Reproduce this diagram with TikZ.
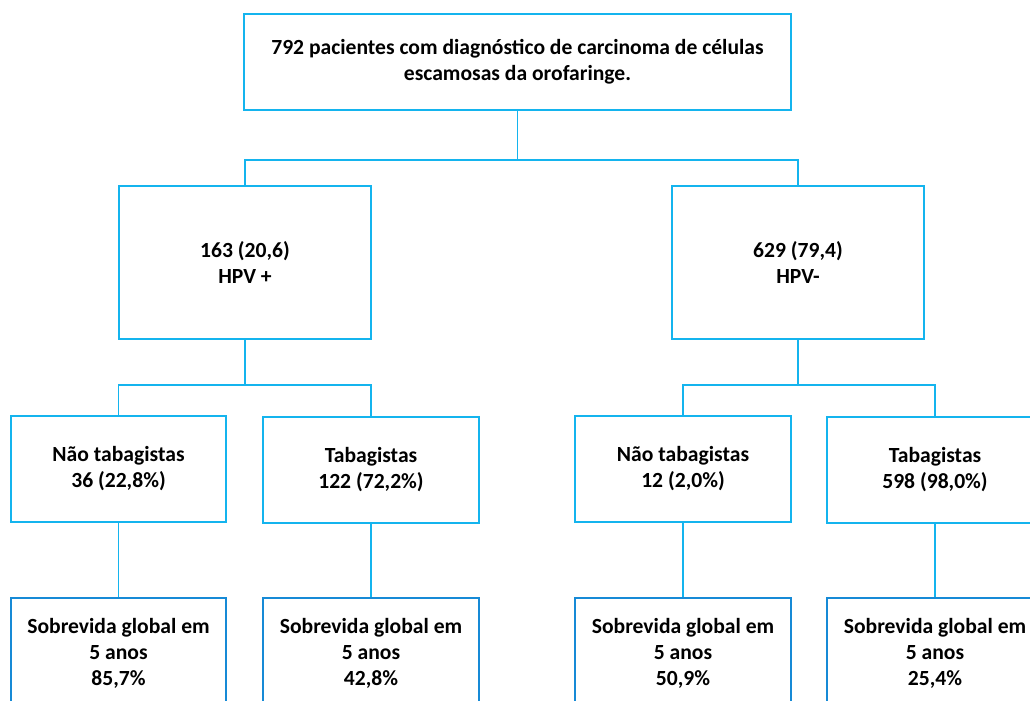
\documentclass[tikz,border=0pt]{standalone}
\usepackage{fontspec}
\setmainfont{Carlito}
\definecolor{lineblue}{RGB}{20,180,238}
\definecolor{darkblue}{RGB}{22,138,214}
\tikzset{
  box/.style = {draw = lineblue, line width = 1.3pt, align = center, inner sep = 0pt,
                font = \fontsize{16.2}{19.5}\selectfont\bfseries},
  endbox/.style = {box, draw = darkblue},
  link/.style = {draw = lineblue, line width = 1.3pt}
}
\begin{document}
\begin{tikzpicture}[x = 0.75pt, y = -0.75pt]
  \useasboundingbox (0,0) rectangle (1030,700);
  \clip (0,0) rectangle (1030,700);
  \node [box, minimum width = 547*0.75pt, minimum height = 96*0.75pt] (all) at (517.5,62)
    {792 pacientes com diagnóstico de carcinoma de células\\escamosas da orofaringe.};
  \node [box, minimum width = 252*0.75pt, minimum height = 153*0.75pt] (hpvpos) at (245,262.5)
    {163 (20,6)\\HPV +};
  \node [box, minimum width = 252*0.75pt, minimum height = 153*0.75pt] (hpvneg) at (798,262.5)
    {629 (79,4)\\HPV-};
  \node [box, minimum width = 215*0.75pt, minimum height = 106*0.75pt] (posnt) at (118.5,469)
    {Não tabagistas\\36 (22,8\%)};
  \node [box, minimum width = 216*0.75pt, minimum height = 106*0.75pt] (post) at (371,470)
    {Tabagistas\\122 (72,2\%)};
  \node [box, minimum width = 216*0.75pt, minimum height = 106*0.75pt] (negnt) at (683,469)
    {Não tabagistas\\12 (2,0\%)};
  \node [box, minimum width = 216*0.75pt, minimum height = 106*0.75pt] (negt) at (935,470)
    {Tabagistas\\598 (98,0\%)};
  \node [endbox, minimum width = 215*0.75pt, minimum height = 110*0.75pt] (posntsg) at (118.5,653)
    {Sobrevida global em\\5 anos\\85,7\%};
  \node [endbox, minimum width = 216*0.75pt, minimum height = 110*0.75pt] (postsg) at (371,653)
    {Sobrevida global em\\5 anos\\42,8\%};
  \node [endbox, minimum width = 216*0.75pt, minimum height = 110*0.75pt] (negntsg) at (683,653)
    {Sobrevida global em\\5 anos\\50,9\%};
  \node [endbox, minimum width = 216*0.75pt, minimum height = 110*0.75pt] (negtsg) at (935,653)
    {Sobrevida global em\\5 anos\\25,4\%};
  % tree links
  \draw [link] (all.south) -- ++(0,49) coordinate (split);
  \draw [link] (hpvpos.north) |- (split) -| (hpvneg.north);
  \draw [link] (hpvpos.south) -- ++(0,45) coordinate (possplit);
  \draw [link] (posnt.north) |- (possplit) -| (post.north);
  \draw [link] (hpvneg.south) -- ++(0,45) coordinate (negsplit);
  \draw [link] (negnt.north) |- (negsplit) -| (negt.north);
  \draw [link] (posnt.south) -- (posntsg.north);
  \draw [link] (post.south) -- (postsg.north);
  \draw [link] (negnt.south) -- (negntsg.north);
  \draw [link] (negt.south) -- (negtsg.north);
\end{tikzpicture}
\end{document}
